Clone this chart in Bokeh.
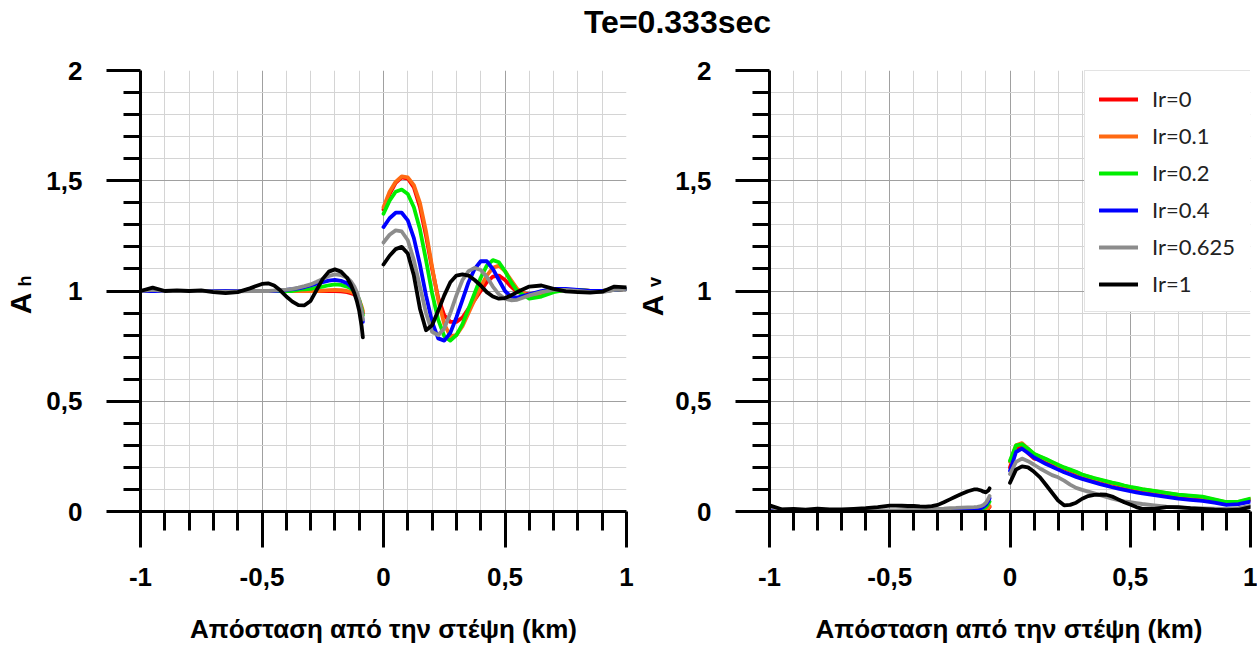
from bokeh.plotting import figure
from bokeh.models import (Range1d, FixedTicker, CustomJSTickFormatter, Label,
                          Legend, LegendItem)
from bokeh.layouts import column, row
from bokeh.embed import file_html
from bokeh.resources import INLINE
import math

# ---------------- data ----------------
series_labels = ["Ir=0", "Ir=0.1", "Ir=0.2", "Ir=0.4", "Ir=0.625", "Ir=1"]
series_colors = ["#ff0000", "#ff6a13", "#00ee00", "#0000ff", "#8c8c8c", "#000000"]

x_left = [-1.0, -0.95, -0.9, -0.85, -0.8, -0.75, -0.7, -0.65, -0.6, -0.55, -0.5,
          -0.475, -0.45, -0.425, -0.4, -0.375, -0.35, -0.325, -0.3, -0.275, -0.25,
          -0.225, -0.2, -0.175, -0.15, -0.135, -0.12, -0.11, -0.1, -0.09, -0.085]
x_right = [0.0, 0.025, 0.05, 0.075, 0.1, 0.125, 0.15, 0.175, 0.2, 0.225, 0.25,
           0.275, 0.3, 0.325, 0.35, 0.375, 0.4, 0.425, 0.45, 0.475, 0.5, 0.525,
           0.55, 0.6, 0.65, 0.7, 0.75, 0.8, 0.85, 0.9, 0.95, 1.0]

# Ah, left of crest
ah_left_ir0 = [1.0, 1.0, 1.0, 1.0, 1.0, 1.0, 1.0, 1.0, 1.0, 1.0, 1.0,
               1.0, 1.0, 1.0, 1.0, 1.0, 1.0, 1.0, 1.0, 1.0, 1.0,
               1.0, 1.0, 0.998, 0.995, 0.99, 0.985, 0.97, 0.95, 0.92, 0.9]
ah_left_ir01 = [1.0, 1.0, 1.0, 1.0, 1.0, 1.0, 1.0, 1.0, 1.0, 1.0, 1.0,
                1.0, 1.0, 1.0, 1.0, 1.0, 1.0, 1.0, 1.0, 1.0, 1.002,
                1.004, 1.005, 1.004, 1.0, 0.996, 0.99, 0.98, 0.96, 0.93, 0.91]
ah_left_ir02 = [1.0, 1.0, 1.0, 1.0, 1.0, 1.0, 1.0, 1.0, 1.0, 1.0, 1.0,
                1.0, 1.0, 1.0, 1.0, 1.0, 1.005, 1.008, 1.01, 1.015, 1.02,
                1.026, 1.03, 1.028, 1.02, 1.012, 1.0, 0.985, 0.96, 0.92, 0.89]
ah_left_ir04 = [1.0, 1.0, 1.0, 1.0, 1.0, 1.0, 1.0, 1.0, 1.0, 1.0, 1.0,
                1.0, 1.0, 1.002, 1.005, 1.008, 1.012, 1.018, 1.025, 1.033, 1.04,
                1.047, 1.05, 1.046, 1.035, 1.022, 1.0, 0.98, 0.95, 0.9, 0.86]
ah_left_ir0625 = [1.0, 1.005, 1.0, 1.0, 1.0, 1.0, 0.998, 0.997, 0.998, 1.0, 1.0,
                  1.0, 1.002, 1.004, 1.006, 1.01, 1.015, 1.022, 1.03, 1.042, 1.055,
                  1.068, 1.075, 1.072, 1.06, 1.045, 1.02, 0.995, 0.96, 0.91, 0.87]
ah_left_ir1 = [1.0, 1.015, 1.0, 1.003, 1.0, 1.003, 0.995, 0.99, 0.995, 1.012, 1.032,
               1.035, 1.025, 1.003, 0.975, 0.952, 0.936, 0.935, 0.955, 1.005, 1.055,
               1.088, 1.098, 1.088, 1.06, 1.03, 0.99, 0.955, 0.91, 0.84, 0.79]

# Ah, right of crest
ah_right_ir0 = [1.37, 1.44, 1.49, 1.515, 1.51, 1.47, 1.38, 1.25, 1.1, 0.97, 0.89,
                0.86, 0.86, 0.88, 0.92, 0.96, 1.0, 1.04, 1.065, 1.07, 1.05, 1.02,
                0.995, 0.985, 0.995, 1.0, 1.005, 1.005, 1.0, 1.0, 1.005, 1.01]
ah_right_ir01 = [1.38, 1.45, 1.495, 1.52, 1.515, 1.48, 1.4, 1.27, 1.11, 0.96, 0.85,
                 0.795, 0.8, 0.84, 0.9, 0.96, 1.02, 1.07, 1.105, 1.115, 1.09, 1.05,
                 1.01, 0.975, 0.985, 1.0, 1.005, 1.005, 1.0, 1.0, 1.005, 1.01]
ah_right_ir02 = [1.35, 1.41, 1.45, 1.46, 1.44, 1.38, 1.28, 1.14, 0.99, 0.87, 0.795,
                 0.775, 0.8, 0.85, 0.92, 0.99, 1.06, 1.115, 1.14, 1.13, 1.09, 1.04,
                 1.0, 0.965, 0.975, 0.995, 1.005, 1.005, 1.0, 1.0, 1.005, 1.01]
ah_right_ir04 = [1.29, 1.33, 1.355, 1.355, 1.32, 1.24, 1.12, 0.98, 0.86, 0.785, 0.775,
                 0.81, 0.88, 0.96, 1.04, 1.1, 1.135, 1.135, 1.1, 1.05, 1.0, 0.975,
                 0.97, 0.985, 1.0, 1.01, 1.01, 1.005, 1.0, 1.0, 1.005, 1.01]
ah_right_ir0625 = [1.22, 1.255, 1.275, 1.27, 1.23, 1.14, 1.02, 0.9, 0.815, 0.8, 0.83,
                   0.9, 0.98, 1.05, 1.09, 1.105, 1.095, 1.065, 1.02, 0.985, 0.965, 0.958,
                   0.96, 0.98, 0.995, 1.005, 1.005, 1.0, 0.995, 0.995, 1.005, 1.01]
ah_right_ir1 = [1.12, 1.16, 1.19, 1.2, 1.17, 1.07, 0.92, 0.822, 0.845, 0.91, 0.98,
                1.04, 1.07, 1.075, 1.07, 1.05, 1.025, 0.995, 0.975, 0.965, 0.968, 0.98,
                0.995, 1.02, 1.025, 1.01, 0.998, 0.995, 0.993, 0.997, 1.02, 1.016]

# Av, left of crest
av_left_ir0 = [0.0, 0.0, 0.0, 0.0, 0.0, 0.0, 0.0, 0.0, 0.0, 0.0, 0.0,
               0.0, 0.0, 0.0, 0.0, 0.0, 0.0, 0.0, 0.0, 0.0, 0.0,
               0.0, 0.0, 0.001, 0.002, 0.003, 0.004, 0.006, 0.008, 0.014, 0.02]
av_left_ir01 = [0.0, 0.0, 0.0, 0.0, 0.0, 0.0, 0.0, 0.0, 0.0, 0.0, 0.0,
                0.0, 0.0, 0.0, 0.0, 0.0, 0.0, 0.0, 0.0, 0.0, 0.0,
                0.001, 0.001, 0.002, 0.003, 0.004, 0.005, 0.007, 0.01, 0.018, 0.025]
av_left_ir02 = [0.0, 0.0, 0.0, 0.0, 0.0, 0.0, 0.0, 0.0, 0.0, 0.0, 0.0,
                0.0, 0.0, 0.0, 0.0, 0.001, 0.001, 0.002, 0.002, 0.003, 0.003,
                0.004, 0.004, 0.005, 0.006, 0.008, 0.01, 0.014, 0.02, 0.035, 0.045]
av_left_ir04 = [0.01, 0.004, 0.002, 0.002, 0.002, 0.002, 0.002, 0.002, 0.002, 0.002, 0.002,
                0.002, 0.002, 0.002, 0.003, 0.003, 0.003, 0.004, 0.004, 0.004, 0.005,
                0.005, 0.005, 0.006, 0.008, 0.011, 0.015, 0.021, 0.03, 0.048, 0.06]
av_left_ir0625 = [0.02, 0.01, 0.006, 0.005, 0.005, 0.005, 0.005, 0.005, 0.005, 0.005, 0.005,
                  0.005, 0.006, 0.007, 0.008, 0.009, 0.01, 0.011, 0.012, 0.013, 0.015,
                  0.016, 0.018, 0.019, 0.02, 0.021, 0.025, 0.03, 0.04, 0.058, 0.07]
av_left_ir1 = [0.028, 0.01, 0.012, 0.008, 0.013, 0.01, 0.01, 0.012, 0.015, 0.02, 0.027,
               0.027, 0.026, 0.025, 0.025, 0.023, 0.022, 0.024, 0.03, 0.042, 0.055,
               0.068, 0.08, 0.092, 0.1, 0.1, 0.095, 0.09, 0.087, 0.095, 0.105]

# Av, right of crest
av_right_ir0 = [0.2, 0.285, 0.295, 0.265, 0.24, 0.235, 0.228, 0.218, 0.207, 0.195, 0.185,
                0.174, 0.163, 0.155, 0.147, 0.14, 0.133, 0.126, 0.12, 0.113, 0.107, 0.102,
                0.097, 0.089, 0.08, 0.072, 0.067, 0.062, 0.05, 0.038, 0.04, 0.053]
av_right_ir01 = [0.225, 0.3, 0.31, 0.285, 0.26, 0.248, 0.236, 0.223, 0.21, 0.198, 0.188,
                 0.178, 0.166, 0.158, 0.15, 0.143, 0.136, 0.129, 0.123, 0.116, 0.11, 0.105,
                 0.1, 0.092, 0.083, 0.075, 0.07, 0.065, 0.053, 0.041, 0.043, 0.056]
av_right_ir02 = [0.23, 0.3, 0.305, 0.285, 0.262, 0.25, 0.238, 0.225, 0.212, 0.2, 0.19,
                 0.18, 0.168, 0.16, 0.152, 0.145, 0.138, 0.131, 0.125, 0.118, 0.112, 0.107,
                 0.102, 0.094, 0.085, 0.077, 0.072, 0.067, 0.055, 0.043, 0.045, 0.058]
av_right_ir04 = [0.185, 0.27, 0.285, 0.265, 0.245, 0.23, 0.215, 0.203, 0.19, 0.178, 0.168,
                 0.157, 0.148, 0.14, 0.132, 0.124, 0.117, 0.11, 0.104, 0.098, 0.092, 0.087,
                 0.082, 0.074, 0.066, 0.058, 0.053, 0.048, 0.04, 0.03, 0.033, 0.045]
av_right_ir0625 = [0.17, 0.225, 0.24, 0.228, 0.212, 0.195, 0.18, 0.165, 0.155, 0.14, 0.122,
                   0.107, 0.098, 0.09, 0.082, 0.074, 0.066, 0.058, 0.052, 0.046, 0.042, 0.038,
                   0.034, 0.028, 0.022, 0.018, 0.015, 0.014, 0.013, 0.012, 0.015, 0.025]
av_right_ir1 = [0.13, 0.19, 0.205, 0.2, 0.18, 0.155, 0.12, 0.085, 0.05, 0.028, 0.03,
                0.04, 0.058, 0.07, 0.075, 0.077, 0.076, 0.068, 0.055, 0.042, 0.032, 0.02,
                0.012, 0.012, 0.02, 0.02, 0.015, 0.012, 0.008, 0.006, 0.008, 0.02]

ah_left = [ah_left_ir0, ah_left_ir01, ah_left_ir02, ah_left_ir04, ah_left_ir0625, ah_left_ir1]
ah_right = [ah_right_ir0, ah_right_ir01, ah_right_ir02, ah_right_ir04, ah_right_ir0625, ah_right_ir1]
av_left = [av_left_ir0, av_left_ir01, av_left_ir02, av_left_ir04, av_left_ir0625, av_left_ir1]
av_right = [av_right_ir0, av_right_ir01, av_right_ir02, av_right_ir04, av_right_ir0625, av_right_ir1]

x_major = [-1, -0.5, 0, 0.5, 1]
y_major = [0, 0.5, 1, 1.5, 2]
title_text = "Te=0.333sec"
x_title = "Απόσταση από την στέψη (km)"

# ---------------- styling helpers ----------------
FONT = "Liberation Sans"
x_minor = [round(-1 + 0.1 * i, 1) for i in range(21)]
x_minor = [v for v in x_minor if v not in x_major]
y_minor = [round(0.1 * i, 1) for i in range(21)]
y_minor = [v for v in y_minor if v not in y_major]
fmt_code = "return tick.toString().replace('.', ',');"

TITLE_H = 56
B_TOP = 14
FRAME_H = 441
B_BOTTOM = 90
ROW_H = B_TOP + FRAME_H + B_BOTTOM
XT_H = 48
TOTAL_W = 1257
FRAME_BOTTOM = TITLE_H + B_TOP + FRAME_H   # page y of the plot frames' bottom
LINE_W = 3.8


def blank(width, height):
    f = figure(width=width, height=height, x_range=Range1d(0, width),
               y_range=Range1d(0, height), output_backend="svg", toolbar_location=None,
               min_border=0, x_axis_location=None, y_axis_location=None)
    f.outline_line_color = None
    f.grid.visible = False
    f.background_fill_color = "white"
    f.border_fill_color = "white"
    return f


def text_label(x, y, text, size, angle=0.0):
    return Label(x=x, y=y, x_units="screen", y_units="screen", text=text, angle=angle,
                 text_align="center", text_baseline="middle", text_font=FONT,
                 text_font_style="bold", text_font_size=size, text_color="black")


def make_panel(width, b_left, b_right, left_data, right_data):
    p = figure(width=width, height=ROW_H, x_range=Range1d(-1, 1), y_range=Range1d(0, 2),
               output_backend="svg", toolbar_location=None,
               min_border_left=b_left, min_border_right=b_right,
               min_border_top=B_TOP, min_border_bottom=B_BOTTOM)
    p.outline_line_color = None
    p.background_fill_color = "white"
    p.border_fill_color = "white"

    p.xaxis.ticker = FixedTicker(ticks=x_major, minor_ticks=x_minor)
    p.yaxis.ticker = FixedTicker(ticks=y_major, minor_ticks=y_minor)
    for ax in (p.xaxis[0], p.yaxis[0]):
        ax.formatter = CustomJSTickFormatter(code=fmt_code)
        ax.axis_line_width = 3
        ax.axis_line_color = "black"
        ax.major_tick_line_width = 3
        ax.minor_tick_line_width = 3
        ax.major_tick_line_color = "black"
        ax.minor_tick_line_color = "black"
        ax.major_tick_in = 0
        ax.minor_tick_in = 0
        ax.major_label_text_font = FONT
        ax.major_label_text_font_style = "bold"
        ax.major_label_text_font_size = "26px"
        ax.major_label_text_color = "black"
    p.xaxis.major_tick_out = 36
    p.xaxis.minor_tick_out = 19
    p.xaxis.major_label_standoff = 20
    p.yaxis.major_tick_out = 34
    p.yaxis.minor_tick_out = 17
    p.yaxis.major_label_standoff = 24

    for g in (p.xgrid[0], p.ygrid[0]):
        g.grid_line_color = "#a0a0a0"
        g.grid_line_width = 1
        g.minor_grid_line_color = "#d4d4d4"
        g.minor_grid_line_width = 1

    renderers = []
    for i, col in enumerate(series_colors):
        r = p.line(x_left, left_data[i], line_width=LINE_W, color=col, line_join="round",
                   line_cap="round")
        p.line(x_right, right_data[i], line_width=LINE_W, color=col, line_join="round",
               line_cap="round")
        renderers.append(r)
    return p, renderers


# title strip
pt = blank(TOTAL_W, TITLE_H)
pt.add_layout(text_label(677, TITLE_H - 21.5, title_text, "32px"))

# y-label strips (their frames get aligned with the plots' frames in the row)
yl1 = blank(40, ROW_H)
yl1.add_layout(text_label(20, FRAME_BOTTOM - 303, "A", "30px", math.pi / 2))
yl1.add_layout(text_label(24, FRAME_BOTTOM - 280.5, "h", "18px", math.pi / 2))

p1, _ = make_panel(596, 100, 10, ah_left, ah_right)

YL2_X = 636
yl2 = blank(36, ROW_H)
yl2.add_layout(text_label(652 - YL2_X, FRAME_BOTTOM - 305, "A", "30px", math.pi / 2))
yl2.add_layout(text_label(654.5 - YL2_X, FRAME_BOTTOM - 281.5, "v", "18px", math.pi / 2))

p2, rs = make_panel(585, 95, 7, av_left, av_right)

legend = Legend(items=[LegendItem(label=lab, renderers=[r]) for lab, r in zip(series_labels, rs)],
                location=(315, 199), padding=14, spacing=10, glyph_width=39,
                glyph_height=24, label_height=24, label_width=87, label_standoff=14,
                label_text_font="Lato", label_text_font_size="22px",
                label_text_color="#222222", border_line_color="#c8c8c8",
                border_line_width=1, background_fill_color="white",
                background_fill_alpha=1.0, margin=0)
p2.add_layout(legend)

# x-title strip
row_bottom = TITLE_H + ROW_H
px_t = blank(TOTAL_W, XT_H)
px_t.add_layout(text_label(383, row_bottom + XT_H - 628.5, x_title, "26px"))
px_t.add_layout(text_label(1008.5, row_bottom + XT_H - 628.5, x_title, "26px"))

layout = column(pt, row(yl1, p1, yl2, p2, spacing=0), px_t, spacing=0)
open("out.html", "w").write(file_html(layout, INLINE))
